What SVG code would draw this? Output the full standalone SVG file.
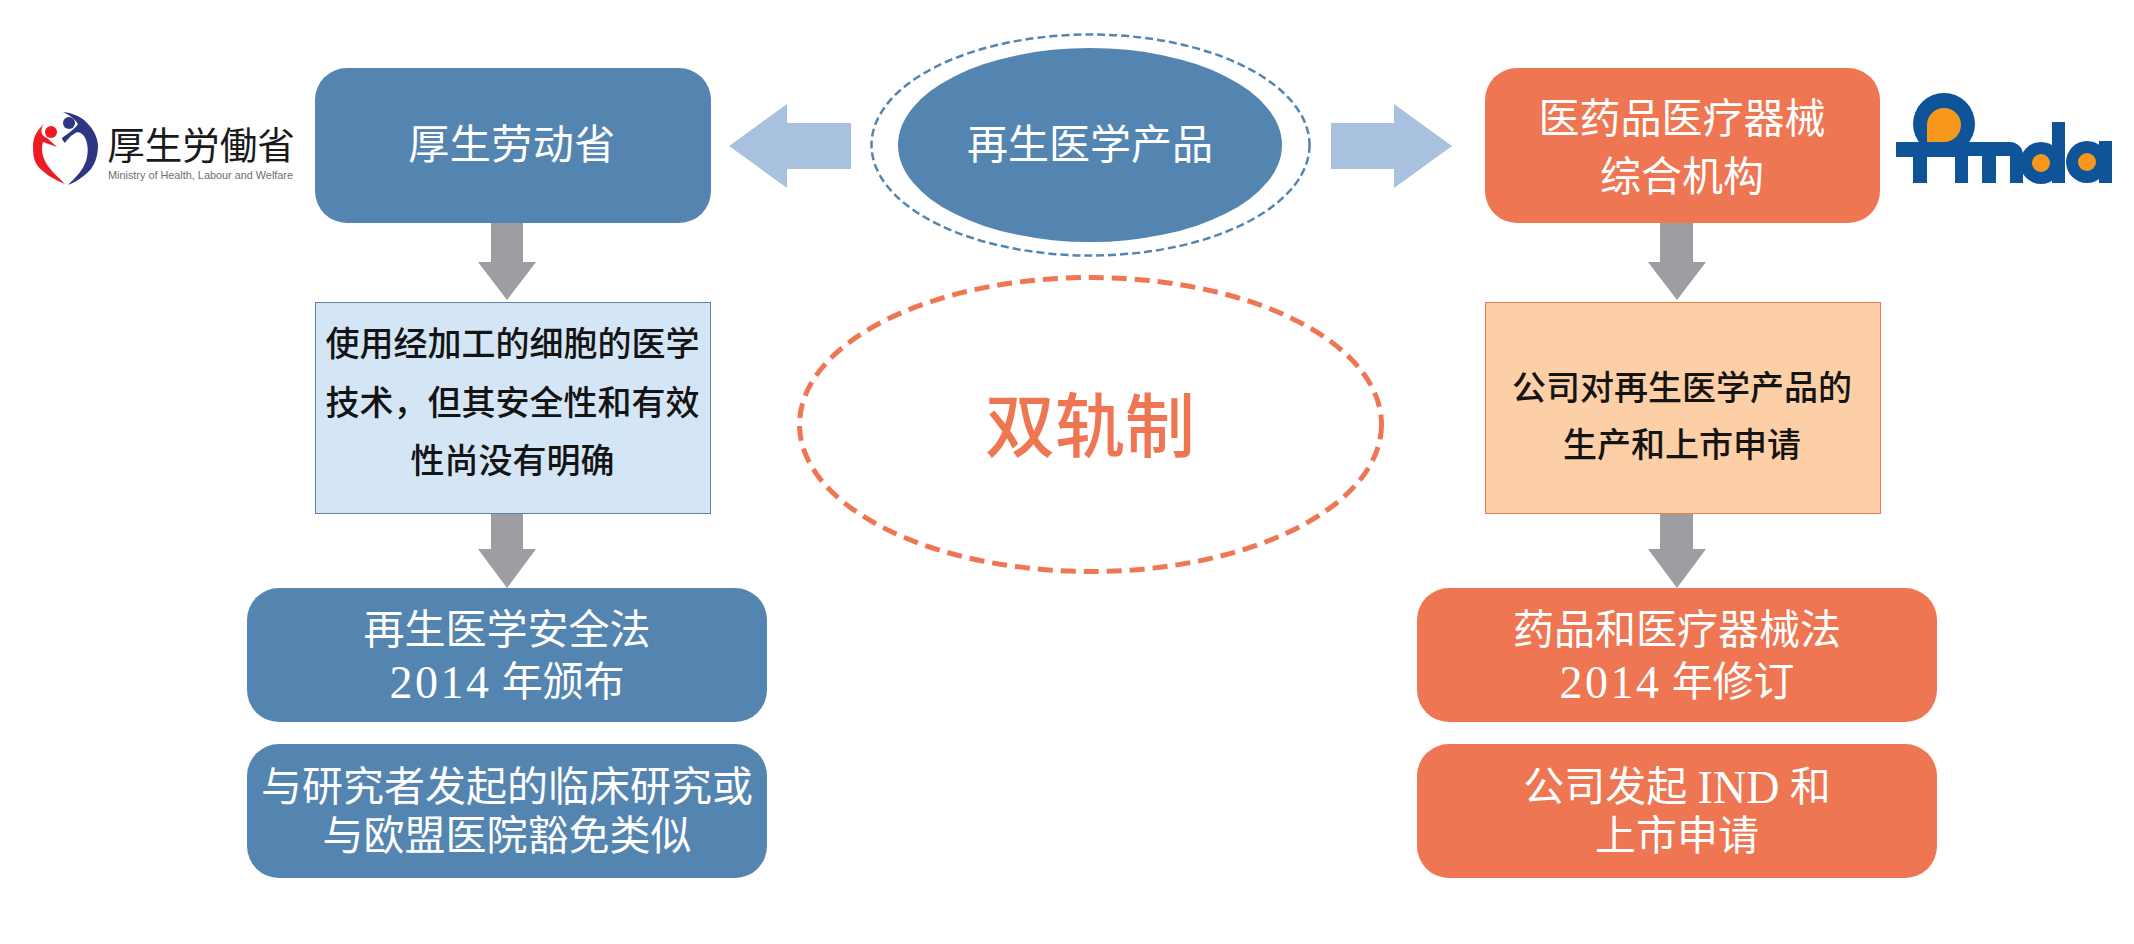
<svg xmlns="http://www.w3.org/2000/svg" width="2134" height="944" viewBox="0 0 2134 944">
<style>
text{font-family:"Liberation Serif","Noto Sans CJK SC",serif;text-anchor:middle;dominant-baseline:central}
.w{fill:#fff;font-size:41px}
.k{fill:#141414;font-size:34px;font-weight:500}
.num{font-size:46px;letter-spacing:2.5px}
.blue{fill:#5485B0}
.red{fill:#EE7652}
.grey{fill:#9D9EA1}
.pale{fill:#A8C1DE}
.lb{fill:#0F5499}
.lo{fill:#F7981D}
</style>
<rect width="2134" height="944" fill="#fff"/>
<g id="connectors">
<path class="grey" d="M491 222H523V262H536L507 300L478 262H491Z"/>
<path class="grey" d="M491 513H523V549H536L507 588L478 549H491Z"/>
<path class="grey" d="M1660 222H1693V262H1706L1677 300L1648 262H1660Z"/>
<path class="grey" d="M1660 513H1693V549H1706L1677 588L1648 549H1660Z"/>
<path class="pale" d="M851 123V169H787V188L729 146L787 104V123Z"/>
<path class="pale" d="M1331 123V169H1394V188L1452 146L1394 104V123Z"/>
</g>
<g id="mhlw-logo">
<path fill="#ED1C24" d="M45 123C37 130 33 137 33 146C33 155 34 160 37 165C42 172 54 180 65 184C60 179 50 170 46 163C42 156 41 148 43 142L57 147L47 138C41 136 39 129 45 123Z"/>
<circle fill="#ED1C24" cx="51" cy="132" r="6"/>
<path fill="#2E3582" d="M63 112C72 113 79 116 84 120C92 127 97 135 98 145C98 154 96 162 91 169C85 176 76 182 68 185C76 177 83 170 86 161C89 152 88 142 84 136C81 132 77 131 74 134C70 136 67 140 65 143C63 141 62 139 62 138C67 134 74 130 78 124C74 118 69 115 63 112Z"/>
<circle fill="#2E3582" cx="69" cy="123" r="6"/>
<text x="201" y="142" font-size="37.5" style="font-family:'Noto Sans CJK JP',sans-serif" fill="#1a1a1a" font-weight="400">厚生労働省</text>
<text x="200.5" y="175" font-size="11.5" textLength="185" lengthAdjust="spacingAndGlyphs" style="font-family:'Liberation Sans',sans-serif" fill="#6E6E6E">Ministry of Health, Labour and Welfare</text>
</g>
<g id="pmda-logo">
<circle class="lb" cx="1944" cy="124" r="31"/>
<rect class="lb" x="1896" y="142" width="70" height="15"/>
<rect class="lb" x="1913" y="142" width="14" height="41"/>
<path class="lo" d="M1927 142V125A17 17 0 1 1 1944 142Z"/>
<path class="lb" d="M1955 183V142H2010A13 13 0 0 1 2023 155V183H2010V156H1996V183H1982V156H1968V183Z"/>
<circle class="lb" cx="2041" cy="163" r="21"/>
<rect class="lb" x="2052" y="122" width="13" height="61"/>
<circle class="lo" cx="2041" cy="163" r="9"/>
<circle class="lb" cx="2087" cy="162" r="21"/>
<rect class="lb" x="2099" y="141" width="13" height="42"/>
<circle class="lo" cx="2087" cy="162" r="9"/>
</g>
<g id="mhlw">
<rect class="blue" x="315" y="68" width="396" height="155" rx="32"/>
<text class="w" x="512" y="145" letter-spacing="0.5">厚生劳动省</text>
</g>
<g id="product">
<ellipse class="blue" cx="1090" cy="145" rx="192" ry="97"/>
<ellipse cx="1090.5" cy="145" rx="219" ry="110.5" fill="none" stroke="#5485B0" stroke-width="2.5" stroke-dasharray="8 4"/>
<text class="w" x="1090" y="145">再生医学产品</text>
</g>
<g id="pmda">
<rect class="red" x="1485" y="68" width="395" height="155" rx="32"/>
<text class="w" x="1682" y="119">医药品医疗器械</text>
<text class="w" x="1682" y="177">综合机构</text>
</g>
<g id="dual-track">
<ellipse cx="1090.5" cy="424.5" rx="291" ry="147" fill="none" stroke="#EE7652" stroke-width="5" stroke-dasharray="15 8"/>
<text x="1090" y="428" font-size="70" font-weight="500" fill="#EE7652">双轨制</text>
</g>
<g id="scope">
<rect x="315.5" y="302.5" width="395" height="211" fill="#D4E6F5" stroke="#5485B0" stroke-width="1"/>
<text class="k" x="512.5" y="344">使用经加工的细胞的医学</text>
<text class="k" x="512.5" y="403">技术，但其安全性和有效</text>
<text class="k" x="512.5" y="461">性尚没有明确</text>
</g>
<g id="company">
<rect x="1485.5" y="302.5" width="395" height="211" fill="#FDCFA6" stroke="#EE7652" stroke-width="1"/>
<text class="k" x="1682" y="388">公司对再生医学产品的</text>
<text class="k" x="1682" y="445">生产和上市申请</text>
</g>
<g id="safety-act">
<rect class="blue" x="247" y="588" width="520" height="134" rx="32"/>
<text class="w" x="507" y="630">再生医学安全法</text>
<text class="w" x="507" y="682"><tspan class="num">2014</tspan> 年颁布</text>
</g>
<g id="iit">
<rect class="blue" x="247" y="744" width="520" height="134" rx="32"/>
<text class="w" x="507" y="787">与研究者发起的临床研究或</text>
<text class="w" x="507" y="836">与欧盟医院豁免类似</text>
</g>
<g id="pmd-act">
<rect class="red" x="1417" y="588" width="520" height="134" rx="32"/>
<text class="w" x="1677" y="630">药品和医疗器械法</text>
<text class="w" x="1677" y="682"><tspan class="num">2014</tspan> 年修订</text>
</g>
<g id="ind">
<rect class="red" x="1417" y="744" width="520" height="134" rx="32"/>
<text class="w" x="1677" y="787">公司发起 <tspan font-size="46">IND</tspan> 和</text>
<text class="w" x="1677" y="836">上市申请</text>
</g>
</svg>
